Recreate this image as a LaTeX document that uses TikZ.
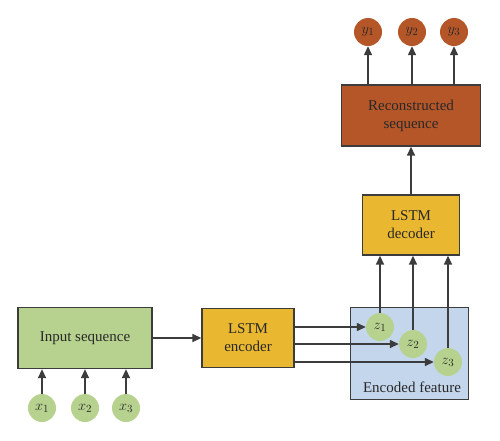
\documentclass[tikz,border=0pt]{standalone}
\usepackage{fontspec}
\setmainfont{Liberation Serif}
\usetikzlibrary{arrows.meta}
\definecolor{boxgreen}{RGB}{183,210,143}
\definecolor{lstm}{RGB}{233,183,48}
\definecolor{recon}{RGB}{181,86,40}
\definecolor{encblue}{RGB}{196,214,236}
\definecolor{edge}{RGB}{60,60,60}
\definecolor{txt}{RGB}{40,40,40}
\tikzset{
  blk/.style={draw=edge, line width=1.3pt, rectangle, inner sep=0pt, align=center, text=txt, font=\fontsize{15}{18}\selectfont},
  circ/.style={circle, draw=none, minimum size=28pt, inner sep=0pt, text=txt, font=\fontsize{15}{15}\selectfont},
  arr/.style={draw=edge, line width=1.4pt, -{Triangle[length=9pt,width=8pt]}},
}
\begin{document}
\begin{tikzpicture}[x=1pt,y=-1pt]
\useasboundingbox (0,0) rectangle (500,440);
% encoded feature background
\node[blk, fill=encblue, minimum width=118pt, minimum height=92pt, anchor=north west] (enc) at (350,307) {};
\node[text=txt, font=\fontsize{15}{18}\selectfont] (enclab) at (412,387) {Encoded feature};
% boxes
\node[blk, fill=boxgreen, minimum width=134pt, minimum height=61pt] (inp) at (85,338) {Input sequence};
\node[blk, fill=lstm, minimum width=92pt, minimum height=59pt] (lenc) at (248,338) {LSTM\\encoder};
\node[blk, fill=lstm, minimum width=97pt, minimum height=60pt] (ldec) at (411,225) {LSTM\\decoder};
\node[blk, fill=recon, minimum width=139pt, minimum height=61pt] (rec) at (411,115.5) {Reconstructed\\sequence};
% input circles
\node[circ, fill=boxgreen] (x1) at (42,408) {$x_1$};
\node[circ, fill=boxgreen] (x2) at (85,408) {$x_2$};
\node[circ, fill=boxgreen] (x3) at (126,408) {$x_3$};
% z circles
\node[circ, fill=boxgreen] (z1) at (380,327) {$z_1$};
\node[circ, fill=boxgreen] (z2) at (413,344) {$z_2$};
\node[circ, fill=boxgreen] (z3) at (448,362) {$z_3$};
% y circles
\node[circ, fill=recon] (y1) at (368,32) {$y_1$};
\node[circ, fill=recon] (y2) at (412,32) {$y_2$};
\node[circ, fill=recon] (y3) at (454,32) {$y_3$};
% arrows x -> input
\foreach \c in {x1,x2,x3} \draw[arr] (\c.north) -- (\c.north |- inp.south);
% input -> encoder
\draw[arr] (inp.east) -- (lenc.west);
% encoder -> z
\draw[arr] (lenc.east |- z1.west) -- (z1.west);
\draw[arr] (lenc.east |- z2.west) -- (z2.west);
\draw[arr] (lenc.east |- z3.west) -- (z3.west);
% z -> decoder
\foreach \c in {z1,z2,z3} \draw[arr] (\c.north) -- (\c.north |- ldec.south);
% decoder -> reconstructed
\draw[arr] (ldec.north) -- (rec.south);
% reconstructed -> y
\foreach \c in {y1,y2,y3} \draw[arr] (\c.south |- rec.north) -- (\c.south);
\end{tikzpicture}
\end{document}
